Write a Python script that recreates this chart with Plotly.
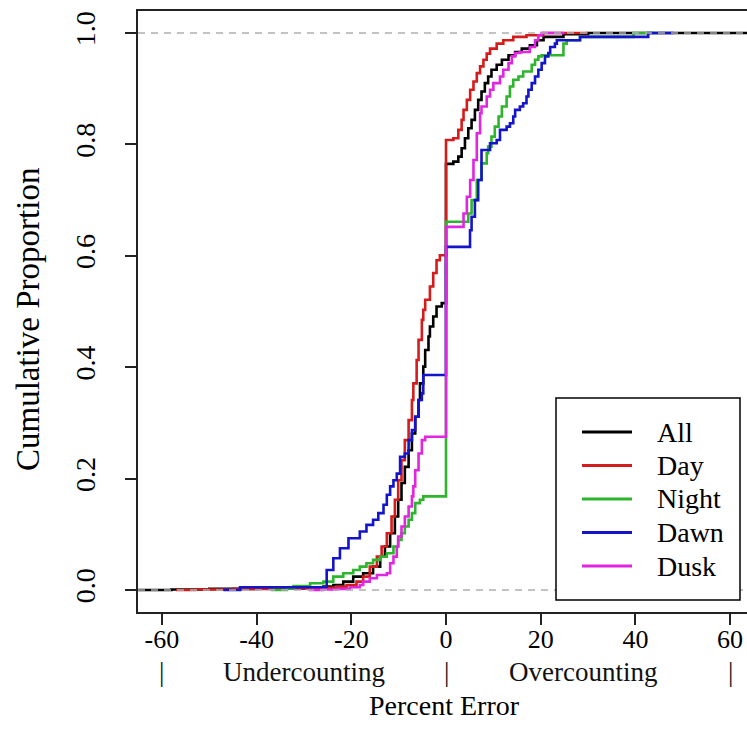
import plotly.graph_objects as go

# ---------------- data ----------------
series_names = ["All", "Day", "Night", "Dawn", "Dusk"]
series_colors = ["#000000", "#D41C1C", "#2DB52D", "#1414C8", "#E026E0"]

all_x = [-65, -58, -50, -40, -30, -25.9, -23.8, -21.7, -19.6, -17.5, -15.4, -13.9, -12.9,
         -11.8, -10.8, -10.1, -9.4, -8.7, -7.9, -7.2, -6.5, -5.8, -5.5, -4.8, -4.4, -3.7,
         -3.4, -2.7, -2.0, -0.9, 0, 1.55, 2.6, 3.3, 4.0, 4.7, 5.4, 6.1, 6.8, 7.5, 8.2, 8.9,
         9.6, 10.7, 11.8, 13.2, 14.6, 16.0, 17.7, 19.2, 20.6, 24.8, 30, 64]
all_y = [0, 0.001, 0.002, 0.003, 0.004, 0.006, 0.009, 0.015, 0.024, 0.030, 0.042, 0.060, 0.078,
         0.102, 0.132, 0.162, 0.192, 0.221, 0.251, 0.281, 0.311, 0.341, 0.371, 0.401, 0.431, 0.455,
         0.473, 0.491, 0.509, 0.515, 0.765, 0.769, 0.778, 0.793, 0.811, 0.829, 0.844, 0.862, 0.880,
         0.895, 0.910, 0.922, 0.934, 0.943, 0.952, 0.960, 0.966, 0.972, 0.978, 0.987, 0.993, 0.998,
         1.0, 1.0]

day_x = [-57, -53, -45, -35, -28, -23.1, -21.0, -18.9, -17.5, -16.1, -14.6, -13.6, -12.5, -11.5,
         -10.8, -10.1, -9.4, -8.7, -7.9, -7.2, -6.9, -6.2, -5.8, -5.1, -4.8, -4.4, -3.4, -2.7,
         -2.0, -1.3, 0, 1.55, 2.6, 3.3, 3.7, 4.4, 5.1, 5.8, 6.5, 7.2, 7.9, 8.6, 9.3, 10.7, 12.1,
         14.2, 17.0, 20.5, 30]
day_y = [0, 0.001, 0.002, 0.003, 0.004, 0.006, 0.009, 0.015, 0.024, 0.042, 0.060, 0.078, 0.102,
         0.132, 0.162, 0.197, 0.233, 0.269, 0.305, 0.341, 0.371, 0.413, 0.449, 0.485, 0.503, 0.521,
         0.545, 0.569, 0.592, 0.601, 0.808, 0.811, 0.826, 0.844, 0.862, 0.880, 0.898, 0.913, 0.928,
         0.940, 0.952, 0.963, 0.972, 0.981, 0.987, 0.993, 0.996, 1.0, 1.0]

night_x = [-37, -33.6, -32.2, -28.7, -25.9, -23.8, -21.7, -19.6, -18.2, -16.8, -15.4, -13.9, -12.5,
           -11.1, -10.1, -9.4, -8.7, -7.9, -7.2, -6.5, -5.5, -4.8, 0, 4.7, 5.4, 6.5, 7.5, 8.6, 8.9,
           9.6, 10.3, 11.1, 11.8, 12.8, 13.5, 14.2, 15.3, 16.3, 18.1, 18.8, 19.5, 20.2, 24.8, 25.5,
           28.3, 39.6, 44]
night_y = [0, 0.003, 0.007, 0.012, 0.015, 0.024, 0.030, 0.036, 0.042, 0.048, 0.054, 0.060, 0.066,
           0.078, 0.090, 0.102, 0.114, 0.126, 0.138, 0.156, 0.162, 0.168, 0.661, 0.676, 0.700, 0.736,
           0.766, 0.784, 0.796, 0.814, 0.832, 0.850, 0.868, 0.886, 0.904, 0.916, 0.922, 0.931, 0.943,
           0.952, 0.958, 0.960, 0.981, 0.987, 0.993, 1.0, 1.0]

dawn_x = [-47, -43.5, -25.2, -23.8, -22.4, -20.6, -18.2, -16.8, -15.4, -14.3, -13.2, -12.5,
          -11.8, -11.1, -10.4, -9.7, -8.7, -7.9, -7.2, -6.5, -5.8, -5.1, -4.8, 0, 5.07, 5.4,
          6.1, 6.8, 7.5, 9.3, 10.7, 11.4, 12.8, 13.5, 14.2, 14.6, 15.6, 16.3, 17.0, 17.4, 18.1,
          18.8, 19.5, 20.2, 20.9, 21.6, 22.0, 23.0, 23.4, 28.3, 42.7, 48]
dawn_y = [0, 0.005, 0.036, 0.057, 0.075, 0.093, 0.105, 0.117, 0.126, 0.138, 0.153, 0.171,
          0.186, 0.197, 0.209, 0.239, 0.245, 0.269, 0.287, 0.311, 0.341, 0.353, 0.386, 0.616,
          0.646, 0.670, 0.700, 0.736, 0.790, 0.802, 0.808, 0.826, 0.832, 0.838, 0.850, 0.862,
          0.868, 0.874, 0.886, 0.898, 0.910, 0.922, 0.934, 0.946, 0.958, 0.964, 0.975, 0.981,
          0.987, 0.993, 1.0, 1.0]

dusk_x = [-29, -26, -23.1, -20.3, -18.2, -17.5, -16.1, -14.6, -12.5, -11.8, -11.1, -10.4, -10.1,
          -9.4, -8.7, -7.9, -7.2, -6.9, -6.5, -5.8, -5.1, -4.4, 0, 3.7, 4.4, 5.1, 5.8, 6.5, 7.2,
          7.5, 8.6, 9.3, 10.0, 11.4, 12.1, 13.2, 13.9, 14.6, 15.6, 17.7, 18.8, 19.5, 20.2, 21.3, 25]
dusk_y = [0, 0.001, 0.002, 0.005, 0.009, 0.015, 0.021, 0.027, 0.030, 0.048, 0.060, 0.078, 0.096,
          0.114, 0.132, 0.150, 0.168, 0.186, 0.215, 0.245, 0.269, 0.275, 0.652, 0.676, 0.706, 0.736,
          0.772, 0.820, 0.856, 0.868, 0.886, 0.898, 0.910, 0.922, 0.934, 0.946, 0.958, 0.964, 0.966,
          0.975, 0.987, 0.996, 1.0, 1.0, 1.0]

series_x = [all_x, day_x, night_x, dawn_x, dusk_x]
series_y = [all_y, day_y, night_y, dawn_y, dusk_y]

x_tick_vals = [-60, -40, -20, 0, 20, 40, 60]
x_tick_text = ["-60", "-40", "-20", "0", "20", "40", "60"]
y_tick_vals = [0, 0.2, 0.4, 0.6, 0.8, 1.0]
y_tick_text = ["0.0", "0.2", "0.4", "0.6", "0.8", "1.0"]
ref_levels = [0, 1]
sub_labels = ["|", "Undercounting", "|", "Overcounting", "|"]
sub_label_x = [-60, -30, 0, 29, 60]

# ---------------- figure ----------------
W, H = 747, 746
L, R, T, B = 138, 0, 11, 134
FONT = "Liberation Serif, Times New Roman, serif"
pw, ph = W - L - R, H - T - B


def px_x(p):
    return (p - L) / pw


def px_y(p):
    return (H - B - p) / ph


fig = go.Figure()
for name, color, xs, ys in zip(series_names, series_colors, series_x, series_y):
    fig.add_trace(go.Scatter(x=xs, y=ys, mode="lines", name=name, showlegend=False,
                             line=dict(color=color, width=2.6, shape="hv")))

for lv in ref_levels:
    fig.add_hline(y=lv, line=dict(color="#B0B0B0", width=1.5, dash="7px,6px"), layer="above")

# legend drawn as a box
fig.add_shape(type="rect", xref="paper", yref="paper",
              x0=px_x(556), x1=px_x(740), y0=px_y(600), y1=px_y(398),
              line=dict(color="black", width=1.5), fillcolor="white", layer="above")
row_y = [432, 465.5, 499, 532.5, 566]
for name, color, ry in zip(series_names, series_colors, row_y):
    fig.add_shape(type="line", xref="paper", yref="paper",
                  x0=px_x(582), x1=px_x(632), y0=px_y(ry), y1=px_y(ry),
                  line=dict(color=color, width=3), layer="above")
    fig.add_annotation(xref="paper", yref="paper", x=px_x(655), y=px_y(ry), text=name,
                       showarrow=False, xanchor="left", yanchor="middle",
                       font=dict(family=FONT, size=28, color="black"))

for lab, lx in zip(sub_labels, sub_label_x):
    fig.add_annotation(xref="x", yref="paper", x=lx, y=px_y(672), text=lab, showarrow=False,
                       xanchor="center", yanchor="middle",
                       font=dict(family=FONT, size=27, color="#111111"))
fig.add_annotation(xref="paper", yref="paper", x=px_x((368 + 520) / 2), y=px_y(705),
                   text="Percent Error", showarrow=False, xanchor="center", yanchor="middle",
                   font=dict(family=FONT, size=28, color="black"))
fig.add_annotation(xref="paper", yref="paper", x=px_x(28), y=px_y(320),
                   text="Cumulative Proportion", showarrow=False, textangle=-90,
                   xanchor="center", yanchor="middle",
                   font=dict(family=FONT, size=33, color="black"))

x0 = -65.05
x1 = x0 + pw / 4.735
fig.update_layout(
    width=W, height=H, margin=dict(l=L, r=R, t=T, b=B, pad=0),
    plot_bgcolor="white", paper_bgcolor="white",
    font=dict(family=FONT, size=26, color="black"),
    xaxis=dict(range=[x0, x1], tickvals=x_tick_vals, ticktext=x_tick_text,
               ticks="outside", ticklen=11, tickwidth=1.5, tickcolor="#222",
               ticklabelstandoff=-8,
               showline=True, linecolor="#222", linewidth=1.5, mirror=True,
               showgrid=False, zeroline=False, tickfont=dict(size=26)),
    yaxis=dict(range=[-0.0395, 1.0395], tickvals=y_tick_vals, ticktext=y_tick_text,
               ticks="outside", ticklen=11, tickwidth=1.5, tickcolor="#222", tickangle=-90,
               ticklabelstandoff=19,
               showline=True, linecolor="#222", linewidth=1.5, mirror=False,
               showgrid=False, zeroline=False, tickfont=dict(size=28)),
)

fig.write_html("out.html", config={"displayModeBar": False},
               post_script="document.body.style.margin='0';")
